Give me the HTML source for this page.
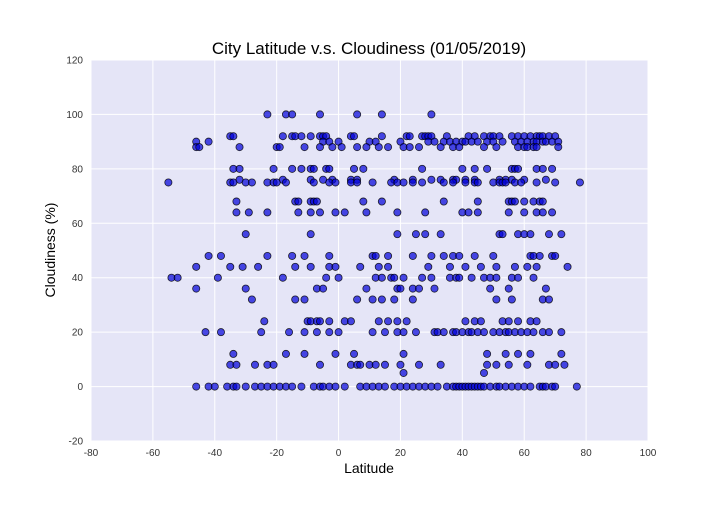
<!DOCTYPE html>
<html><head><meta charset="utf-8"><style>
body{margin:0;background:#fff;font-family:"Liberation Sans","DejaVu Sans",sans-serif}
</style></head><body>
<svg id="chart" width="720" height="504" xmlns="http://www.w3.org/2000/svg">
<rect x="91" y="60" width="557" height="381" fill="#E5E5F7"/>
<g id="grid"></g>
<g id="points"></g>
<g id="ticks"></g>
<text x="369" y="54" text-anchor="middle" font-size="17">City Latitude v.s. Cloudiness (01/05/2019)</text>
<text x="369" y="473" text-anchor="middle" font-size="14">Latitude</text>
<text transform="translate(55,250) rotate(-90)" text-anchor="middle" font-size="14">Cloudiness (%)</text>
</svg>
<script>
const xTicks=[-80,-60,-40,-20,0,20,40,60,80,100];
const yTicks=[-20,0,20,40,60,80,100,120];
const levels=[100,92,90,88,80,76,75,68,64,56,48,44,40,36,32,24,20,12,8,5,0];
const lats=[
[-23,-17,-15,-6,6,14,30],
[-35,-34,-18,-15,-14,-12,-9,-6,-5,-4,4,5,14,22,23,27,28,29,30,35,42,44,47,49,50,52,56,58,60,62,64,65,66,68,70],
[-46,-42,-5,-3,0,10,12,20,29,31,34,36,38,40,41,43,45,48,50,53,57,59,61,63,64,66,67,69,71],
[-46,-45,-32,-20,-19,-11,-6,-2,1,6,9,13,16,21,23,26,33,37,39,47,51,58,60,61,63,64,71],
[-34,-32,-21,-15,-12,-9,-8,-4,-3,5,8,27,40,44,48,56,57,58,64,66,69],
[-32,-18,-9,-5,-2,4,6,18,24,30,33,37,38,41,44,52,54,56,60,67],
[-55,-35,-34,-30,-28,-23,-21,-20,-17,-8,-3,-1,4,6,11,17,19,21,24,27,34,37,41,44,45,50,52,53,54,57,59,64,70,78],
[-33,-14,-13,-9,-8,-7,8,14,34,45,55,56,57,60,63,65,66],
[-33,-29,-23,-13,-9,-6,-1,2,9,19,28,40,42,45,55,60,64,66,69],
[-30,-9,19,25,28,33,52,53,58,60,62,68,72],
[-42,-38,-23,-15,-11,-3,11,12,16,24,30,34,37,39,44,50,62,63,65,69,70],
[-46,-35,-31,-26,-14,-9,-3,-1,7,13,16,29,36,41,46,51,57,61,64,74],
[-54,-52,-39,-18,-4,0,12,14,17,18,21,27,30,36,38,39,43,47,49,51,56,58,63],
[-46,-30,-7,-5,9,19,20,24,26,31,49,55,67],
[-28,-14,-11,6,11,14,18,24,51,56,66,68],
[-24,-10,-9,-7,-6,-3,2,4,13,16,19,22,41,44,46,53,55,58,62,64],
[-43,-38,-25,-16,-11,-7,-3,0,11,15,19,21,25,31,32,34,37,38,40,42,43,45,47,50,52,54,55,57,59,61,63,66,68,72],
[-34,-17,-11,-1,5,21,48,54,58,62,72],
[-35,-33,-27,-23,-21,-6,4,6,7,10,12,15,20,26,33,48,51,55,61,68,70,73],
[21,47],
[-46,-42,-40,-36,-34,-33,-30,-27,-25,-23,-21,-19,-17,-15,-12,-8,-6,-5,-3,-1,2,7,9,11,13,15,18,20,22,24,26,28,30,32,35,37,38,39,40,41,42,43,44,45,46,47,49,51,52,54,56,58,60,62,65,66,67,69,70,77]
];
const NS="http://www.w3.org/2000/svg";
const X0=91,X1=648,Y0=441,Y1=60;
const sx=v=>X0+(v+80)/180*(X1-X0);
const sy=v=>Y0-(v+20)/140*(Y0-Y1);
const grid=document.getElementById('grid'),ticks=document.getElementById('ticks'),pts=document.getElementById('points');
function mk(tag,at,parent){const e=document.createElementNS(NS,tag);for(const k in at)e.setAttribute(k,at[k]);parent.appendChild(e);return e;}
xTicks.forEach(t=>{
  const l=mk('line',{x1:sx(t),x2:sx(t),y1:Y1,y2:Y0,stroke:'#fff','stroke-width':1},grid);
  
  
  const tx=mk('text',{x:sx(t),y:Y0+15,'text-anchor':'middle','font-size':10,fill:'#333'},ticks);
  
  
  tx.textContent=t;
});
yTicks.forEach(t=>{
  const l=mk('line',{x1:X0,x2:X1,y1:sy(t),y2:sy(t),stroke:'#fff','stroke-width':1},grid);
  
  
  const tx=mk('text',{x:X0-8,y:sy(t)+3.5,'text-anchor':'end','font-size':10,fill:'#333'},ticks);
  
  
  tx.textContent=t;
});
levels.forEach((c,i)=>{
  lats[i].forEach(la=>{
    const p=mk('circle',{cx:sx(la),cy:sy(c),r:3.6,fill:'#0000d8','fill-opacity':0.7,stroke:'#000','stroke-opacity':0.8,'stroke-width':0.8},pts);
    
    
  });
});
</script>
</body></html>
